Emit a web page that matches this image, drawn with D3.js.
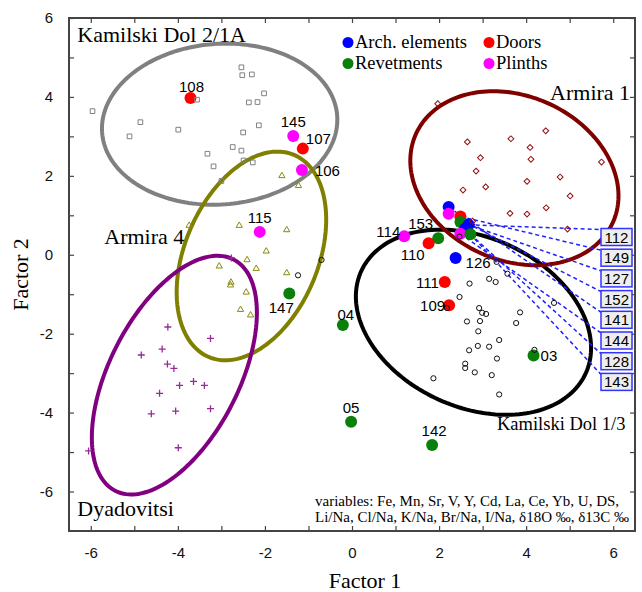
<!DOCTYPE html>
<html>
<head>
<meta charset="utf-8">
<script src="https://cdn.jsdelivr.net/npm/d3@7"></script>
<style>
  body { margin: 0; background: #fff; }
</style>
</head>
<body>
<div id="chart"></div>
<script>
// reference groups (small open symbols)
const kamilski21 = [[-5.96,3.64],[-4.86,3.36],[-5.11,3.0],[-3.99,3.17],[-3.56,3.93],[-2.54,4.75],[-2.52,4.55],
  [-2.30,4.57],[-2.02,4.09],[-2.37,3.86],[-2.17,3.87],[-2.14,3.28],[-2.50,3.10],[-2.74,2.73],[-2.54,2.64],
  [-3.32,2.56],[-3.18,2.24],[-2.49,2.39],[-2.28,2.34],[-3.0,1.87]];
const armira1 = [[1.97,3.83],[2.65,2.86],[2.95,2.46],[2.85,2.12],[2.55,1.64],[3.07,1.72],[3.65,2.94],[4.09,2.72],
  [4.11,2.42],[4.45,3.14],[4.02,1.86],[4.78,1.97],[5.01,1.49],[5.73,2.35],[4.46,1.19],[3.63,1.05],[4.02,1.03],
  [4.95,0.65],[2.77,0.85]];
const armira4 = [[-3.74,0.74],[-2.59,0.74],[-1.50,0.63],[-1.97,0.09],[-2.41,-0.13],[-3.05,-0.29],[-2.20,-0.35],
  [-1.50,-0.46],[-2.78,-0.70],[-2.79,-0.77],[-2.43,-0.95],[-2.56,-1.39],[-2.33,-1.53],[-1.61,2.0],[-1.23,1.75]];
const dyadovitsi = [[-2.77,-0.08],[-4.23,-1.83],[-3.25,-2.12],[-4.84,-2.54],[-4.36,-2.39],[-4.24,-2.77],[-4.09,-2.88],
  [-3.96,-3.31],[-3.64,-3.21],[-3.39,-3.31],[-4.42,-3.51],[-4.61,-4.03],[-4.05,-3.96],[-3.25,-3.90],[-3.99,-4.89],[-6.05,-4.97]];
const kamilski13 = [[3.32,-0.18],[3.57,-0.48],[2.70,-0.73],[3.15,-0.61],[3.30,-0.69],[2.47,-1.07],[2.18,-1.35],
  [2.92,-1.35],[2.99,-1.47],[3.08,-1.50],[2.64,-1.69],[2.94,-1.68],[2.90,-1.94],[3.86,-1.46],[3.77,-1.73],
  [4.64,-1.22],[3.38,-2.16],[2.89,-2.31],[3.15,-2.33],[2.69,-2.42],[3.33,-2.63],[4.19,-2.41],[2.60,-2.76],
  [2.60,-2.87],[2.82,-2.98],[3.21,-3.05],[1.87,-3.13],[3.38,-3.54],[-1.24,-0.52],[-0.70,-0.13],[2.47,0.46]];

// confidence ellipses: centre and two conjugate semi-axes, in factor units
const groupNames = ["Kamilski Dol 2/1A", "Armira 4", "Dyadovitsi", "Kamilski Dol 1/3", "Armira 1"];
const groupColors = ["#808080", "#808000", "#800080", "#000000", "#800000"];
const ellipseCentre = [[-3.04,3.31],[-2.31,-0.03],[-4.08,-3.05],[2.79,-1.71],[3.73,1.94]];
const ellipseAxisU = [[2.70,0.21],[0.98,2.56],[1.36,2.93],[2.58,-1.29],[2.27,-1.10]];
const ellipseAxisV = [[0.13,-2.03],[1.41,-0.66],[1.32,-0.75],[-0.80,-1.96],[-0.75,-1.91]];
const groupLabelAt = [[-6.31,5.39],[-5.69,0.27],[-6.31,-6.62],[3.33,-4.44],[4.55,3.91]];

// studied samples
const sampleIds   = ["108","145","107","106","115","147","04","05","142","03","114","153","110","126","111","109",
                     "141","152","149","127","112","143","144","128"];
const sampleTypes = ["Doors","Plinths","Doors","Plinths","Plinths","Revetments","Revetments","Revetments","Revetments",
                     "Revetments","Plinths","Revetments","Doors","Arch. elements","Doors","Doors",
                     "Arch. elements","Plinths","Doors","Revetments","Arch. elements","Arch. elements","Plinths","Revetments"];
const sampleX = [-3.71,-1.35,-1.13,-1.15,-2.12,-1.44,-0.21,-0.02,1.84,4.17,1.20,1.98,1.76,2.38,2.13,2.23,
                 2.22,2.22,2.49,2.49,2.68,2.60,2.49,2.72];
const sampleY = [3.97,3.01,2.69,2.15,0.58,-0.98,-1.78,-4.23,-4.82,-2.55,0.47,0.42,0.29,-0.08,-0.69,-1.28,
                 1.21,1.04,0.97,0.83,0.76,0.66,0.53,0.52];
// samples in the crowded cluster are labelled in boxes on the right, in this order
const boxedIds = ["112","149","127","152","141","144","128","143"];

const typeNames = ["Arch. elements", "Doors", "Revetments", "Plinths"];
const typeColors = ["#0000ff", "#ff0000", "#0a800a", "#ff00ff"];

// label placement for the free-standing samples: [dx, dy, anchor]
const labelOffsets = {
  "108": [1, -6, "middle"], "145": [0, -9, "middle"], "107": [3, -5, "start"], "106": [13, 6, "start"],
  "115": [0, -9, "middle"], "147": [-8, 20, "middle"], "04": [3, -5, "middle"], "05": [0, -9, "middle"],
  "142": [2, -9, "middle"], "03": [7, 6, "start"], "114": [-4, 1, "end"], "153": [-5, -9, "end"],
  "110": [-4, 17, "end"], "126": [10, 10, "start"], "111": [-6, 6, "end"], "109": [-4, 6, "end"]
};

const W = 642, H = 592;
const margin = { top: 18, right: 7, bottom: 61, left: 69 };
const innerW = W - margin.left - margin.right;
const innerH = H - margin.top - margin.bottom;

const svg = d3.select("#chart").append("svg")
  .attr("width", W).attr("height", H);

const xScale = d3.scaleLinear().domain([-6.5, 6.5]).range([margin.left, margin.left + innerW]);
const yScale = d3.scaleLinear().domain([-7, 6]).range([margin.top + innerH, margin.top]);
const color = d3.scaleOrdinal().domain(typeNames).range(typeColors);

const sans = "'Liberation Sans', Arial, sans-serif";
const serif = "'Liberation Serif', 'Times New Roman', serif";

// axes, ticks inward on all four sides
const evenOnly = d => (d % 2 === 0 ? d : "");
function styleAxis(g) {
  g.select(".domain").remove();
  g.selectAll(".tick line").attr("stroke", "#444").attr("stroke-width", 1.2);
  g.selectAll(".tick text").attr("font-family", sans).attr("font-size", 15).attr("fill", "#111");
}
svg.append("g").attr("transform", `translate(0,${margin.top + innerH})`)
  .call(d3.axisBottom(xScale).tickValues(d3.range(-6, 7)).tickSize(-5).tickPadding(16).tickFormat(evenOnly))
  .call(styleAxis);
svg.append("g").attr("transform", `translate(0,${margin.top})`)
  .call(d3.axisTop(xScale).tickValues(d3.range(-6, 7)).tickSize(-5).tickFormat(""))
  .call(styleAxis);
svg.append("g").attr("transform", `translate(${margin.left},0)`)
  .call(d3.axisLeft(yScale).tickValues(d3.range(-6, 7)).tickSize(-5).tickPadding(16).tickFormat(evenOnly))
  .call(styleAxis);
svg.append("g").attr("transform", `translate(${margin.left + innerW},0)`)
  .call(d3.axisRight(yScale).tickValues(d3.range(-6, 7)).tickSize(-5).tickFormat(""))
  .call(styleAxis);

svg.append("rect")
  .attr("x", margin.left).attr("y", margin.top)
  .attr("width", innerW).attr("height", innerH)
  .attr("fill", "none").attr("stroke", "#444").attr("stroke-width", 2);

// axis titles
svg.append("text").attr("x", 365).attr("y", 588)
  .attr("text-anchor", "middle").attr("font-family", serif).attr("font-size", 22)
  .text("Factor 1");
svg.append("text").attr("transform", `translate(28,${margin.top + innerH / 2}) rotate(-90)`)
  .attr("text-anchor", "middle").attr("font-family", serif).attr("font-size", 22)
  .text("Factor 2");

const plot = svg.append("g");

// ellipses
const ellipseLine = d3.line().x(d => xScale(d[0])).y(d => yScale(d[1])).curve(d3.curveLinearClosed);
groupNames.forEach((name, i) => {
  const c = ellipseCentre[i], u = ellipseAxisU[i], v = ellipseAxisV[i];
  const pts = d3.range(0, 2 * Math.PI, Math.PI / 90).map(t => [
    c[0] + u[0] * Math.cos(t) + v[0] * Math.sin(t),
    c[1] + u[1] * Math.cos(t) + v[1] * Math.sin(t)
  ]);
  plot.append("path").attr("d", ellipseLine(pts))
    .attr("fill", "none").attr("stroke", groupColors[i]).attr("stroke-width", 4);
});

// group names
groupNames.forEach((name, i) => {
  plot.append("text")
    .attr("x", xScale(groupLabelAt[i][0])).attr("y", yScale(groupLabelAt[i][1]))
    .attr("font-family", serif).attr("font-size", name === "Kamilski Dol 1/3" ? 18.5 : 22)
    .text(name);
});

// dashed leader lines from cluster samples to their boxes
const boxTop0 = 228.5, boxStep = 20.7, boxX = 601, boxW = 31, boxH = 17;
boxedIds.forEach((id, k) => {
  const i = sampleIds.indexOf(id);
  plot.append("line")
    .attr("x1", xScale(sampleX[i])).attr("y1", yScale(sampleY[i]))
    .attr("x2", boxX).attr("y2", boxTop0 + k * boxStep + 1)
    .attr("stroke", "#2020ff").attr("stroke-width", 1.5).attr("stroke-dasharray", "4,3");
});

// studied samples
plot.selectAll(".sample").data(sampleIds).join("circle")
  .attr("class", "sample")
  .attr("cx", (d, i) => xScale(sampleX[i]))
  .attr("cy", (d, i) => yScale(sampleY[i]))
  .attr("r", 6)
  .attr("fill", (d, i) => color(sampleTypes[i]));

// reference group symbols
const square = d3.symbol(d3.symbolSquare, 22);
const diamond = d3.symbol(d3.symbolSquare, 17);
const triangle = d3.symbol(d3.symbolTriangle, 17);
plot.selectAll(".kd21").data(kamilski21).join("path")
  .attr("transform", d => `translate(${xScale(d[0])},${yScale(d[1])})`)
  .attr("d", square).attr("fill", "none").attr("stroke", "#808080").attr("stroke-width", 1);
plot.selectAll(".a1").data(armira1).join("path")
  .attr("transform", d => `translate(${xScale(d[0])},${yScale(d[1])}) rotate(45)`)
  .attr("d", diamond).attr("fill", "none").attr("stroke", "#901010").attr("stroke-width", 1);
plot.selectAll(".a4").data(armira4).join("path")
  .attr("transform", d => `translate(${xScale(d[0])},${yScale(d[1])})`)
  .attr("d", triangle).attr("fill", "none").attr("stroke", "#8a8a10").attr("stroke-width", 1);
plot.selectAll(".dy").data(dyadovitsi).join("path")
  .attr("transform", d => `translate(${xScale(d[0])},${yScale(d[1])})`)
  .attr("d", "M-3.5,0H3.5M0,-3.5V3.5").attr("fill", "none").attr("stroke", "#9a2a9a").attr("stroke-width", 1.3);
plot.selectAll(".kd13").data(kamilski13).join("circle")
  .attr("cx", d => xScale(d[0])).attr("cy", d => yScale(d[1])).attr("r", 2.6)
  .attr("fill", "none").attr("stroke", "#111").attr("stroke-width", 1);

// sample labels
sampleIds.forEach((id, i) => {
  const o = labelOffsets[id];
  if (!o) return;
  plot.append("text")
    .attr("x", xScale(sampleX[i]) + o[0]).attr("y", yScale(sampleY[i]) + o[1])
    .attr("text-anchor", o[2]).attr("font-family", sans).attr("font-size", 15)
    .text(id);
});

// boxed labels
boxedIds.forEach((id, k) => {
  const top = boxTop0 + k * boxStep;
  plot.append("rect").attr("x", boxX).attr("y", top).attr("width", boxW).attr("height", boxH)
    .attr("fill", "#eeeeee").attr("stroke", "#3333ff").attr("stroke-width", 1.5);
  plot.append("text").attr("x", boxX + boxW / 2).attr("y", top + boxH / 2 + 5.5)
    .attr("text-anchor", "middle").attr("font-family", sans).attr("font-size", 15)
    .text(id);
});

// legend
const legendX = [348, 489, 348, 489], legendY = [42.5, 42.5, 63.5, 63.5];
typeNames.forEach((t, i) => {
  svg.append("circle").attr("cx", legendX[i]).attr("cy", legendY[i]).attr("r", 5.5).attr("fill", typeColors[i]);
  svg.append("text").attr("x", legendX[i] + 7).attr("y", legendY[i] + 5.5)
    .attr("font-family", serif).attr("font-size", 18.5).text(t);
});

// variables note
const noteLines = ["variables: Fe, Mn, Sr, V, Y, Cd, La, Ce, Yb, U, DS,",
                   "Li/Na, Cl/Na, K/Na, Br/Na, I/Na, δ18O ‰, δ13C ‰"];
noteLines.forEach((s, k) => {
  svg.append("text").attr("x", 315).attr("y", 506 + k * 15.5)
    .attr("font-family", serif).attr("font-size", 15).text(s);
});
</script>
</body>
</html>
